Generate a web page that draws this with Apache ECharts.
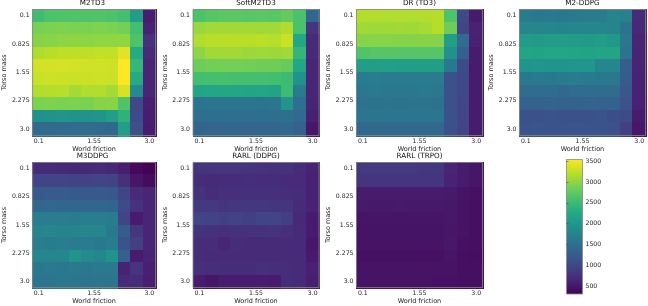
<!DOCTYPE html>
<html>
<head>
<meta charset="utf-8">
<script src="https://cdn.jsdelivr.net/npm/echarts@6/dist/echarts.min.js"></script>
<style>
    html, body { margin: 0; padding: 0; background: #fff; }
    #chart { width: 648px; height: 306px; }
</style>
</head>
<body>
<div id="chart"></div>
<script type="text/javascript">
    // grid values (10 x 10), rows = torso mass, cols = world friction
    var friction = [0.1, 0.4222, 0.7444, 1.0667, 1.3889, 1.7111, 2.0333, 2.3556, 2.6778, 3.0];
    var torsoMass = [0.1, 0.4222, 0.7444, 1.0667, 1.3889, 1.7111, 2.0333, 2.3556, 2.6778, 3.0];

    var frictionTicks = [0.1, 1.55, 3.0];
    var frictionTickLabels = ['0.1', '1.55', '3.0'];
    var massTicks = [0.1, 0.825, 1.55, 2.275, 3.0];
    var massTickLabels = ['0.1', '0.825', '1.55', '2.275', '3.0'];
    var colorbarTicks = [500, 1000, 1500, 2000, 2500, 3000, 3500];

    var titles = ['M2TD3', 'SoftM2TD3', 'DR (TD3)', 'M2-DDPG', 'M3DDPG', 'RARL (DDPG)', 'RARL (TRPO)'];

    var m2td3 = [
        [2520, 2620, 2640, 2650, 2640, 2650, 2630, 2580, 2090, 570],
        [2880, 2900, 2910, 2900, 2900, 2920, 2900, 2850, 2560, 620],
        [2950, 2960, 2980, 2990, 2980, 3000, 3000, 3000, 2620, 760],
        [3150, 3200, 3220, 3230, 3230, 3240, 3240, 3400, 2280, 700],
        [3330, 3330, 3340, 3330, 3320, 3320, 3310, 3541, 2440, 640],
        [3280, 3300, 3290, 3280, 3290, 3300, 3290, 3541, 2280, 640],
        [3160, 3180, 3190, 3100, 3160, 3170, 3100, 3350, 1830, 640],
        [2900, 2920, 2900, 2910, 2890, 2950, 2960, 2640, 1020, 580],
        [1920, 1950, 1960, 1950, 1940, 1960, 2100, 2370, 1050, 570],
        [1420, 1430, 1450, 1440, 1440, 1430, 1400, 2090, 1116, 560]
    ];
    var softM2td3 = [
        [2620, 2680, 2700, 2700, 2690, 2700, 2690, 2760, 2600, 1375],
        [3040, 3080, 3090, 3090, 3090, 3080, 3080, 3150, 2600, 790],
        [3160, 3200, 3210, 3200, 3200, 3210, 3190, 3290, 2250, 700],
        [2980, 3080, 3090, 3080, 3060, 3070, 3050, 3080, 2430, 690],
        [2820, 2840, 2850, 2850, 2840, 2830, 2830, 2780, 2220, 640],
        [2560, 2580, 2590, 2580, 2570, 2570, 2560, 2500, 1950, 640],
        [2200, 2220, 2230, 2220, 2210, 2220, 2180, 2500, 1650, 640],
        [1550, 1560, 1560, 1570, 1560, 1550, 1560, 1960, 1470, 630],
        [1480, 1490, 1500, 1490, 1490, 1500, 1480, 1500, 1420, 590],
        [1360, 1370, 1380, 1380, 1370, 1380, 1370, 1390, 1300, 520]
    ];
    var drTd3 = [
        [3170, 3170, 3160, 3160, 3160, 3170, 3180, 2630, 1020, 540],
        [3080, 3070, 3070, 3080, 3070, 3110, 3180, 2830, 960, 620],
        [2960, 2960, 2960, 2950, 2950, 2950, 2950, 2090, 1440, 600],
        [2650, 2680, 2680, 2670, 2670, 2680, 2670, 1925, 1280, 560],
        [2090, 2110, 2120, 2100, 2100, 2110, 2100, 1600, 1050, 560],
        [1650, 1660, 1650, 1640, 1640, 1650, 1640, 1116, 1000, 550],
        [1600, 1610, 1600, 1590, 1600, 1610, 1600, 1116, 1000, 550],
        [1520, 1530, 1520, 1530, 1520, 1520, 1530, 1100, 990, 550],
        [1560, 1570, 1560, 1570, 1560, 1570, 1560, 1116, 980, 550],
        [1400, 1410, 1390, 1400, 1400, 1410, 1390, 1110, 950, 550]
    ];
    var m2Ddpg = [
        [1650, 1620, 1630, 1620, 1630, 1640, 1640, 1750, 1700, 690],
        [1780, 1790, 1780, 1770, 1790, 1780, 1780, 1760, 1550, 680],
        [2080, 2070, 2090, 2090, 2080, 2060, 2090, 2040, 1600, 650],
        [2200, 2180, 2220, 2220, 2200, 2180, 2200, 2190, 1550, 630],
        [1980, 1990, 1970, 1980, 2000, 1990, 1780, 1800, 1250, 630],
        [1620, 1610, 1620, 1630, 1640, 1630, 1620, 1600, 1240, 620],
        [1450, 1440, 1460, 1400, 1440, 1450, 1460, 1440, 1180, 610],
        [1330, 1320, 1340, 1320, 1330, 1340, 1320, 1310, 1120, 600],
        [1110, 1100, 1120, 1110, 1100, 1110, 1120, 1080, 1050, 560],
        [1150, 1160, 1140, 1150, 1160, 1150, 1130, 1100, 900, 520]
    ];
    var m3Ddpg = [
        [700, 690, 680, 670, 680, 690, 660, 580, 370, 320],
        [950, 960, 950, 940, 940, 950, 930, 740, 500, 400],
        [1220, 1230, 1230, 1220, 1210, 1220, 1200, 950, 700, 640],
        [1380, 1390, 1380, 1380, 1370, 1370, 1360, 1050, 760, 640],
        [1660, 1670, 1660, 1650, 1660, 1670, 1650, 960, 560, 650],
        [1760, 1780, 1770, 1760, 1780, 1790, 1620, 1240, 820, 640],
        [1660, 1650, 1660, 1640, 1650, 1620, 1650, 1150, 900, 640],
        [1780, 1790, 1790, 1960, 1830, 1800, 1950, 1290, 560, 630],
        [1600, 1610, 1600, 1610, 1600, 1610, 1610, 620, 790, 590],
        [1560, 1580, 1600, 1590, 1580, 1590, 1570, 700, 720, 580]
    ];
    var rarlDdpg = [
        [780, 790, 790, 790, 780, 780, 760, 760, 720, 620],
        [720, 700, 710, 720, 730, 710, 720, 700, 690, 600],
        [760, 720, 740, 740, 750, 750, 740, 730, 710, 600],
        [830, 830, 800, 820, 810, 810, 800, 800, 700, 620],
        [960, 930, 920, 930, 910, 960, 950, 900, 680, 560],
        [780, 760, 740, 760, 760, 770, 780, 740, 700, 560],
        [720, 710, 650, 720, 700, 700, 700, 700, 690, 520],
        [720, 700, 700, 700, 690, 700, 700, 700, 700, 540],
        [740, 730, 720, 710, 720, 740, 730, 710, 700, 600],
        [560, 500, 560, 560, 560, 570, 560, 720, 700, 580]
    ];
    var rarlTrpo = [
        [830, 830, 830, 830, 830, 820, 820, 640, 560, 500],
        [800, 800, 790, 790, 800, 800, 790, 620, 560, 500],
        [560, 550, 560, 560, 560, 560, 550, 530, 480, 460],
        [540, 530, 530, 540, 530, 530, 530, 520, 470, 450],
        [490, 490, 490, 490, 490, 490, 490, 520, 480, 450],
        [480, 480, 480, 480, 480, 480, 480, 500, 470, 440],
        [470, 470, 470, 470, 470, 480, 470, 520, 460, 440],
        [460, 460, 460, 460, 460, 460, 460, 490, 450, 430],
        [480, 470, 470, 470, 470, 470, 470, 470, 450, 440],
        [470, 470, 470, 470, 470, 470, 460, 460, 450, 440]
    ];
    var panels = [m2td3, softM2td3, drTd3, m2Ddpg, m3Ddpg, rarlDdpg, rarlTrpo];

    var colorMin = 308, colorMax = 3541;
    var viridis = ['#440154', '#482475', '#414487', '#355f8d', '#2a788e', '#21918c',
                   '#22a884', '#44bf70', '#7ad151', '#bddf26', '#fde725'];

    var myChart = echarts.init(document.getElementById('chart'));

    var step = friction[1] - friction[0];
    var axMin = friction[0] - step / 2, axMax = friction[9] + step / 2;
    var lefts = [29.5, 193, 356.5, 519.5];
    var tops = [9.5, 162.5];
    var heights = [126, 125];
    var font = 'DejaVu Sans';

    function tickLabel(ticks, labels) {
        return function (v) {
            for (var i = 0; i < ticks.length; i++) {
                if (Math.abs(ticks[i] - v) < 1e-6) return labels[i];
            }
            return '';
        };
    }

    var grid = [], xAxis = [], yAxis = [], series = [], title = [];
    panels.forEach(function (mat, k) {
        var r = Math.floor(k / 4), c = k % 4;
        grid.push({ left: lefts[c], top: tops[r], width: 126, height: heights[r],
                    show: true, z: 5, backgroundColor: 'transparent',
                    borderColor: '#888', borderWidth: 0.8 });
        title.push({ text: titles[k], left: lefts[c] + 63, top: tops[r] - 9.5, textAlign: 'center',
                     padding: 0, textStyle: { fontFamily: font, fontSize: 7.2, fontWeight: 'normal', color: '#111' } });
        xAxis.push({
            type: 'value', gridIndex: k, min: axMin, max: axMax,
            name: 'World friction', nameLocation: 'middle', nameGap: 8,
            nameTextStyle: { fontFamily: font, fontSize: 6.5, color: '#222' },
            axisLine: { show: false }, splitLine: { show: false }, minorSplitLine: { show: false },
            axisTick: { show: true, length: 2, customValues: frictionTicks, lineStyle: { color: '#444', width: 0.6 } },
            axisLabel: { customValues: frictionTicks, margin: 3, fontFamily: font, fontSize: 6.2, color: '#222',
                         formatter: tickLabel(frictionTicks, frictionTickLabels) }
        });
        yAxis.push({
            type: 'value', gridIndex: k, min: axMin, max: axMax, inverse: true,
            name: 'Torso mass', nameLocation: 'middle', nameGap: 20, nameRotate: 90,
            nameTextStyle: { fontFamily: font, fontSize: 6.5, color: '#222' },
            axisLine: { show: false }, splitLine: { show: false }, minorSplitLine: { show: false },
            axisTick: { show: true, length: 2, customValues: massTicks, lineStyle: { color: '#444', width: 0.6 } },
            axisLabel: { customValues: massTicks, margin: 3, fontFamily: font, fontSize: 6.2, color: '#222',
                         formatter: tickLabel(massTicks, massTickLabels) }
        });
        var data = [];
        for (var i = 0; i < torsoMass.length; i++) {
            for (var j = 0; j < friction.length; j++) {
                data.push([friction[j], torsoMass[i], mat[i][j]]);
            }
        }
        series.push({
            type: 'custom', xAxisIndex: k, yAxisIndex: k, data: data,
            renderItem: function (params, api) {
                var p = api.coord([api.value(0), api.value(1)]);
                var s = api.size([step, step]);
                var x0 = Math.floor(p[0] - s[0] / 2), y0 = Math.floor(p[1] - s[1] / 2);
                var x1 = Math.ceil(p[0] + s[0] / 2), y1 = Math.ceil(p[1] + s[1] / 2);
                return {
                    type: 'rect',
                    shape: { x: x0, y: y0, width: x1 - x0 + 1, height: y1 - y0 + 1 },
                    style: { fill: api.visual('color'), stroke: null, lineWidth: 0 }
                };
            }
        });
    });

    // colorbar
    var cb = panels.length;
    grid.push({ left: 566.5, top: 159.5, width: 16, height: 134.5, show: true,
                borderColor: '#888', borderWidth: 0.8,
                backgroundColor: new echarts.graphic.LinearGradient(0, 1, 0, 0,
                    viridis.map(function (col, i) { return { offset: i / (viridis.length - 1), color: col }; })) });
    xAxis.push({ type: 'value', gridIndex: cb, show: false, min: 0, max: 1 });
    yAxis.push({
        type: 'value', gridIndex: cb, position: 'right', min: colorMin, max: colorMax,
        axisLine: { show: false }, splitLine: { show: false },
        axisTick: { show: true, length: 2, customValues: colorbarTicks, lineStyle: { color: '#444', width: 0.6 } },
        axisLabel: { customValues: colorbarTicks, margin: 3, fontFamily: font, fontSize: 6.2, color: '#222',
                     formatter: function (v) { return String(v); } }
    });

    option = {
        animation: false,
        title: title,
        grid: grid,
        xAxis: xAxis,
        yAxis: yAxis,
        visualMap: {
            type: 'continuous', show: false, min: colorMin, max: colorMax, dimension: 2,
            seriesIndex: [0, 1, 2, 3, 4, 5, 6],
            inRange: { color: viridis }
        },
        series: series
    };
    myChart.setOption(option);
</script>
</body>
</html>
